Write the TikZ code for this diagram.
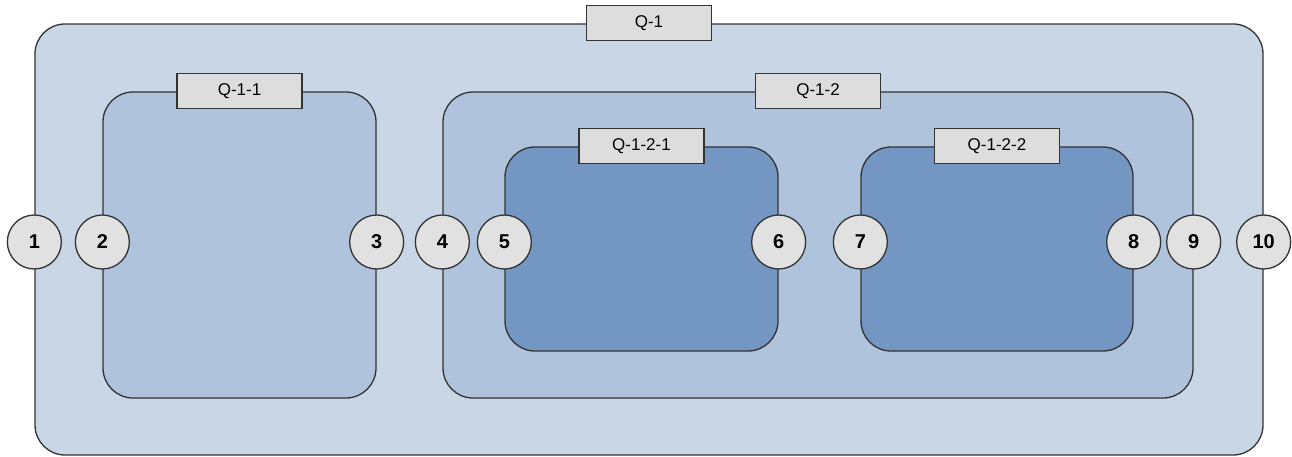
\documentclass[tikz,border=0pt]{standalone}
\usepackage{fontspec}
\setmainfont{Liberation Sans}
\usetikzlibrary{positioning,calc}

\definecolor{paleblue}{HTML}{C9D6E6}
\definecolor{midblue}{HTML}{AFC3DC}
\definecolor{deepblue}{HTML}{7396C2}
\definecolor{taggray}{HTML}{DDDDDD}
\definecolor{portgray}{HTML}{E1E1E1}
\definecolor{edgegray}{HTML}{333333}

\begin{document}
\begin{tikzpicture}[x=1pt, y=-1pt, line width=1.3pt,
  container/.style={draw=edgegray, rounded corners=30pt, inner sep=0pt},
  tag/.style={draw=edgegray, fill=taggray, minimum width=125pt, minimum height=35pt,
    inner sep=0pt, font=\fontsize{17}{17}\selectfont},
  port/.style={circle, draw=edgegray, fill=portgray, minimum size=54pt, inner sep=0pt,
    font=\bfseries\fontsize{20}{20}\selectfont}]

  % Page size
  \useasboundingbox (0,0) rectangle (1292,457);

  % Containers
  \node[container, fill=paleblue, minimum width=1228pt, minimum height=431pt] (q1) at (649,239.5) {};
  \node[container, fill=midblue, minimum width=273pt, minimum height=306pt] (q11) at (239.5,245) {};
  \node[container, fill=midblue, minimum width=750pt, minimum height=306pt] (q12) at (818,245) {};
  \node[container, fill=deepblue, minimum width=273pt, minimum height=204pt] (q121) at (641.5,249) {};
  \node[container, fill=deepblue, minimum width=272pt, minimum height=204pt] (q122) at (997,249) {};

  % Name tags on the top edges
  \foreach \cname/\txt in {q1/Q-1, q11/Q-1-1, q12/Q-1-2, q121/Q-1-2-1, q122/Q-1-2-2} {
    \node[tag] (tag-\cname) at (\cname.north) {\txt};
  }

  % Numbered ports on the side edges
  \coordinate (portrow) at (0,242);
  \foreach \cname/\side/\num in {q1/west/1, q11/west/2, q11/east/3, q12/west/4, q121/west/5,
      q121/east/6, q122/west/7, q122/east/8, q12/east/9, q1/east/10} {
    \node[port] (p\num) at (\cname.\side |- portrow) {\num};
  }

\end{tikzpicture}
\end{document}
